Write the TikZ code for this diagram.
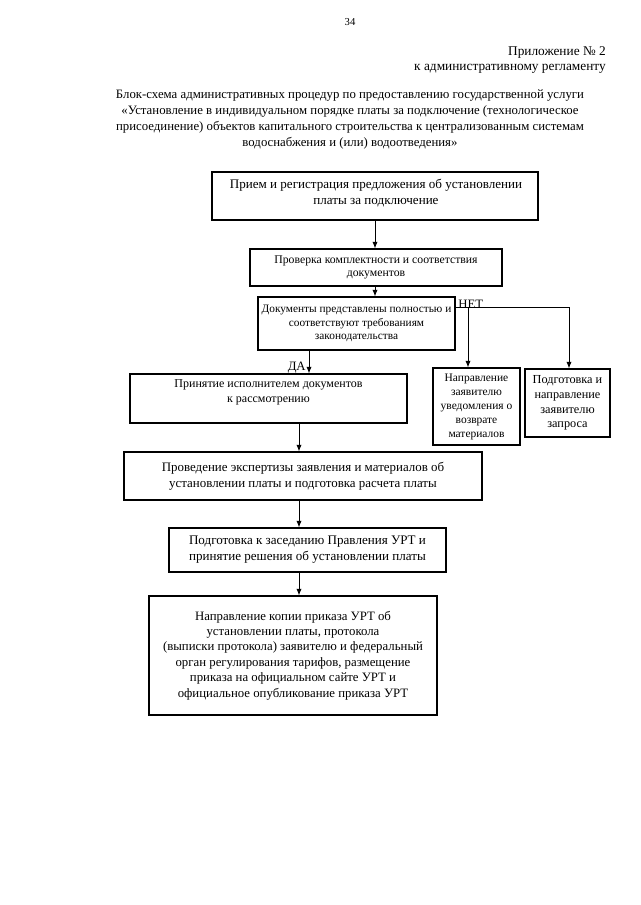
\documentclass[tikz,border=0pt]{standalone}
\usepackage{fontspec}
\setmainfont{Liberation Serif}
\usetikzlibrary{arrows.meta}
\tikzset{
  box/.style={draw=black, line width=0.85pt, inner sep=2pt, align=center},
  arr/.style={draw=black, line width=0.7pt, -{Latex[length=5pt,width=4pt]}},
  ln/.style={draw=black, line width=0.7pt},
  lbl/.style={inner sep=0pt, align=center}
}
\newcommand{\fs}[2]{\fontsize{#1}{#2}\selectfont}
\begin{document}
\begin{tikzpicture}[x=0.75pt,y=-0.75pt]
\fill[white] (0,0) rectangle (640,905);
\useasboundingbox (0,0) rectangle (640,905);
% header
\node[lbl, font=\fs{8}{10}] (pg) at (350,22) {34};
\node[lbl, anchor=east, font=\fs{10}{12}] (app1) at (606,53) {Приложение № 2};
\node[lbl, anchor=east, font=\fs{10}{12}] (app2) at (606,69) {к административному регламенту};
\node[lbl, font=\fs{9.6}{12}] (title) at (350,119) {Блок-схема административных процедур по предоставлению государственной услуги\\
«Установление в индивидуальном порядке платы за подключение (технологическое\\
присоединение) объектов капитального строительства к централизованным системам\\
водоснабжения и (или) водоотведения»};
% boxes
\node[box, minimum width=244.5pt, minimum height=36pt] (b1) at (375,196) {};
\node[lbl, font=\fs{9.8}{11.5}] (t1) at (376,193) {Прием и регистрация предложения об установлении\\ платы за подключение};
\node[box, minimum width=189pt, minimum height=27.75pt, font=\fs{8.8}{10}] (b2) at (376,267.5) {Проверка комплектности и соответствия\\ документов};
\node[box, minimum width=147.75pt, minimum height=39.75pt, font=\fs{8.5}{10.2}] (b3) at (356.5,323.5) {Документы представлены полностью и\\ соответствуют требованиям\\ законодательства};
\node[box, minimum width=65.25pt, minimum height=57.75pt, font=\fs{8.6}{10.5}] (b4) at (476.5,406.5) {Направление\\ заявителю\\ уведомления о\\ возврате\\ материалов};
\node[box, minimum width=63.75pt, minimum height=51pt, font=\fs{9.2}{11}] (b5) at (567.5,403) {Подготовка и\\ направление\\ заявителю\\ запроса};
\node[box, minimum width=207.75pt, minimum height=36.75pt] (b6) at (268.5,398.5) {};
\node[lbl, font=\fs{9}{11.2}] (t6) at (268.5,392) {Принятие исполнителем документов\\ к рассмотрению};
\node[box, minimum width=268.5pt, minimum height=36pt, font=\fs{9.7}{12}] (b7) at (303,476) {Проведение экспертизы заявления и материалов об\\ установлении платы и подготовка расчета платы};
\node[box, minimum width=207.75pt, minimum height=33pt, font=\fs{9.8}{12}] (b8) at (307.5,550) {Подготовка к заседанию Правления УРТ и\\ принятие решения об установлении платы};
\node[box, minimum width=216pt, minimum height=89.25pt, font=\fs{9.6}{11.6}] (b9) at (293,655.5) {Направление копии приказа УРТ об\\ установлении платы, протокола\\ (выписки протокола) заявителю и федеральный\\ орган регулирования тарифов, размещение\\ приказа на официальном сайте УРТ и\\ официальное опубликование приказа УРТ};
% connectors
\draw[arr] (375,0 |- b1.south) -- (375,0 |- b2.north);
\draw[arr] (375,0 |- b2.south) -- (375,0 |- b3.north);
\coordinate (nj) at (569,307);
\coordinate (nk) at (468,307);
\draw[ln] (b3.north east |- nj) -- (nj);
\draw[arr] (nj) -- (nj |- b5.north);
\draw[arr] (nk) -- (nk |- b4.north);
\node[lbl, anchor=south west, font=\fs{9.6}{11}] (net) at (458,309) {НЕТ};
\draw[arr] (309,0 |- b3.south) -- (309,0 |- b6.north);
\node[lbl, anchor=south east, font=\fs{9.6}{11}] (da) at (306,373) {ДА};
\draw[arr] (299,0 |- b6.south) -- (299,0 |- b7.north);
\draw[arr] (299,0 |- b7.south) -- (299,0 |- b8.north);
\draw[arr] (299,0 |- b8.south) -- (299,0 |- b9.north);
\end{tikzpicture}
\end{document}
